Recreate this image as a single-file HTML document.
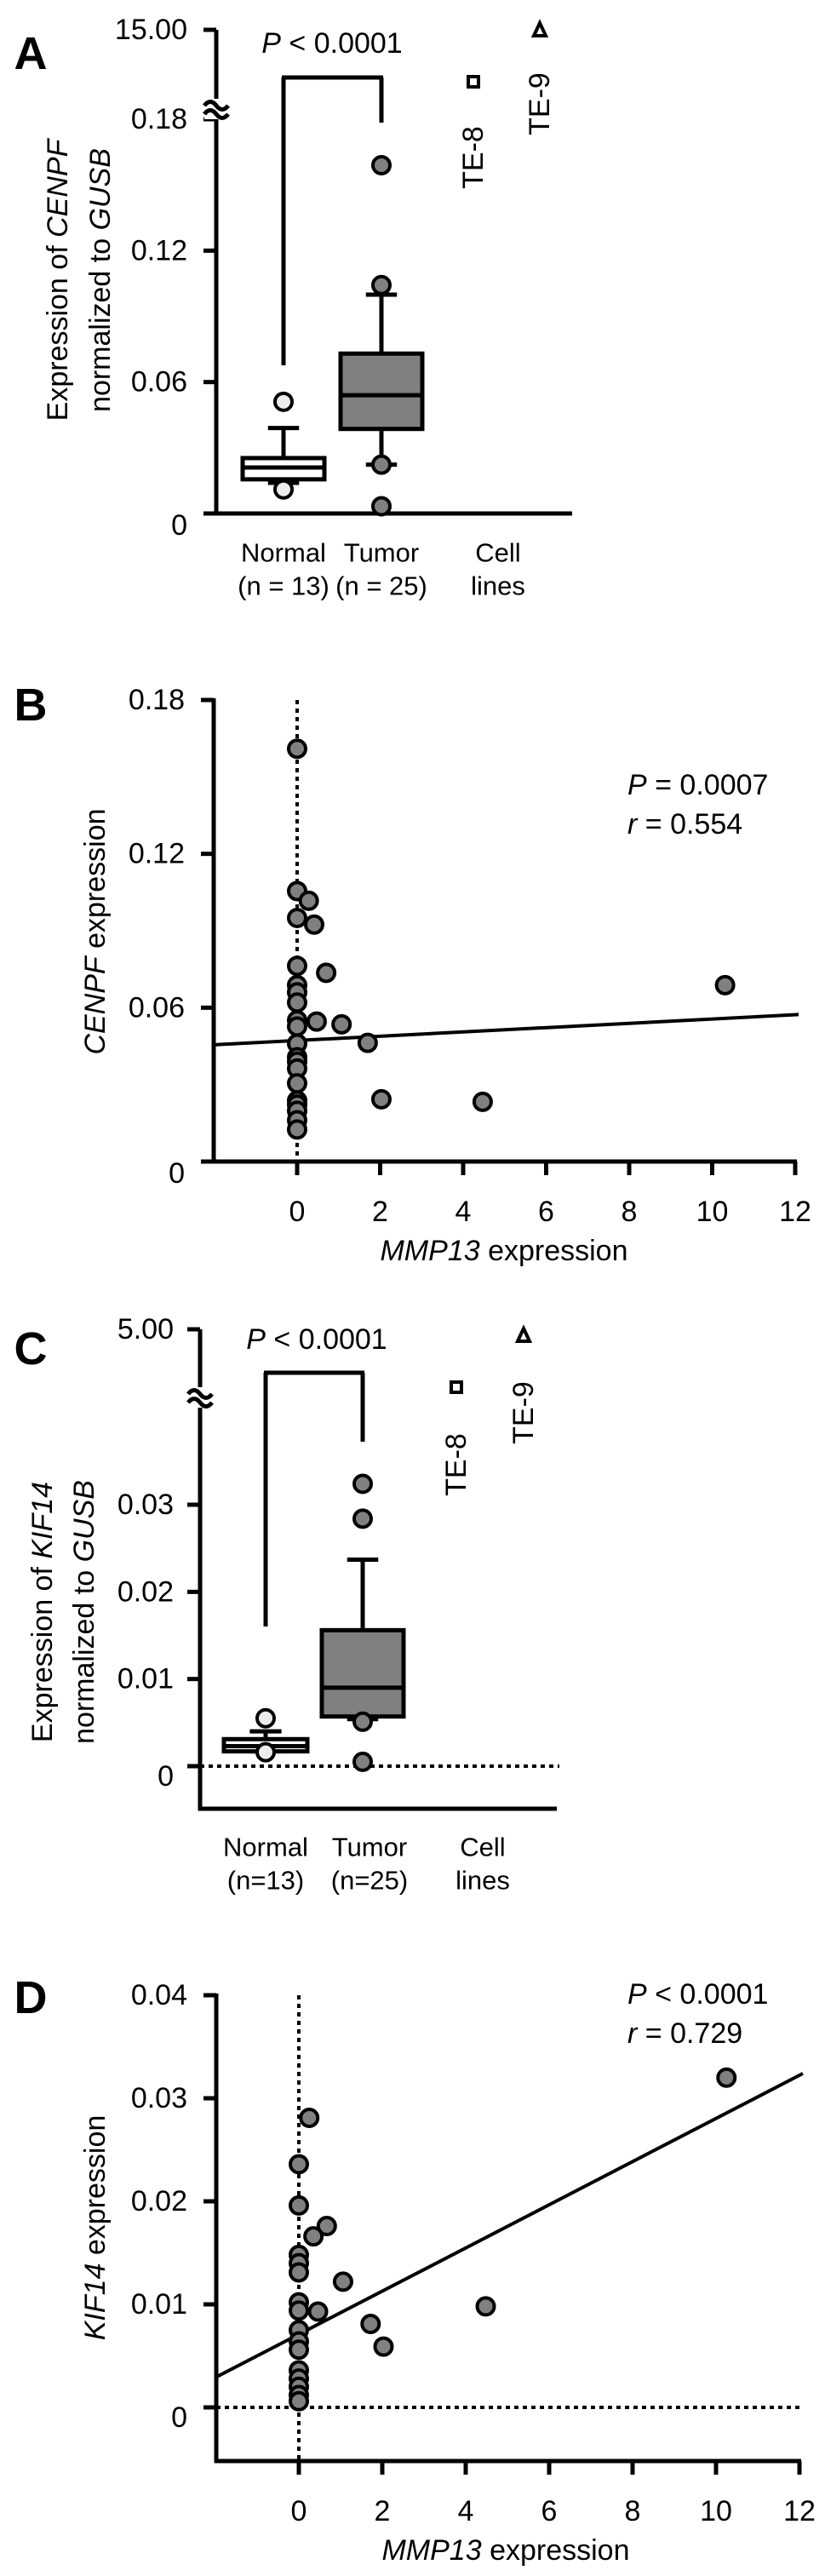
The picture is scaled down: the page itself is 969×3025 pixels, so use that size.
<!DOCTYPE html>
<html><head><meta charset="utf-8"><style>
html,body{margin:0;padding:0;background:#fff;}
svg{display:block;font-family:"Liberation Sans",Arial,sans-serif;}
</style></head><body>
<svg id="fig" width="969" height="3025" viewBox="0 0 969 3025" xmlns="http://www.w3.org/2000/svg"></svg>
<script>
// ---- Panel A data (CENPF) ----
const aTicks = [0, 0.06, 0.12, 0.18];
const aTickLabels = ["0", "0.06", "0.12", "0.18"];
const aNormalStats = [0.014, 0.0156, 0.021, 0.0253, 0.039];
const aTumorStats = [0.0223, 0.0386, 0.054, 0.073, 0.0999];
const aNormalOut = [0.051, 0.011];
const aTumorOut = [0.159, 0.1043, 0.0223, 0.0033];
// ---- Panel B data ----
const bX = [0,0,0.28,0,0.41,0,0.70,0,0,0,0,0,0.47,1.07,1.70,0,0,0,0,0,0,0,0,0,0,2.03,4.47,10.31];
const bY = [0.161,0.1055,0.1017,0.095,0.0924,0.0763,0.0736,0.0688,0.066,0.062,0.0551,0.0527,0.0546,0.0535,0.0463,0.046,0.0407,0.039,0.0363,0.0305,0.0238,0.0222,0.0198,0.0161,0.0125,0.0243,0.0233,0.0688];
const bYTicks = [0, 0.06, 0.12, 0.18];
const bYTickLabels = ["0", "0.06", "0.12", "0.18"];
const bXTicks = [0, 2, 4, 6, 8, 10, 12];
const bFit = [0.0472, 0.00084];
// ---- Panel C data (KIF14) ----
const cTicks = [0, 0.01, 0.02, 0.03];
const cTickLabels = ["0", "0.01", "0.02", "0.03"];
const cNormalStats = [0.0017, 0.0017, 0.0023, 0.0031, 0.0040];
const cTumorStats = [0.0054, 0.0057, 0.0090, 0.0156, 0.0237];
const cNormalOut = [0.0055, 0.0016];
const cTumorOut = [0.0324, 0.0284, 0.0051, 0.0005];
// ---- Panel D data ----
const dX = [0.25,0,0,0.67,0.35,0,0,0,1.06,0,0,0.46,4.48,1.72,0,0,0,2.03,0,0,0,0,0,10.25];
const dY = [0.0281,0.0236,0.0196,0.0176,0.0166,0.0148,0.0140,0.0131,0.0122,0.0102,0.0094,0.0093,0.0098,0.0081,0.0075,0.0064,0.0056,0.0059,0.0036,0.0028,0.0020,0.0012,0.0006,0.0320];
const dYTicks = [0, 0.01, 0.02, 0.03, 0.04];
const dYTickLabels = ["0", "0.01", "0.02", "0.03", "0.04"];
const dXTicks = [0, 2, 4, 6, 8, 10, 12];
const dFit = [0.0071, 0.0021];

const NS = "http://www.w3.org/2000/svg";
const svg = document.getElementById("fig");
function el(tag, attrs, parent, text) {
  const e = document.createElementNS(NS, tag);
  for (const k in attrs) e.setAttribute(k, attrs[k]);
  if (text !== undefined) e.textContent = text;
  (parent || svg).appendChild(e);
  return e;
}
function line(x1,y1,x2,y2,w,dash,name,p){
  const e = el("line",{x1:x1,y1:y1,x2:x2,y2:y2,stroke:"#000","stroke-width":w||5},p);
  if(dash) e.setAttribute("stroke-dasharray",dash);
  
  
  return e;
}
function txt(x,y,s,size,anchor,name,p,extra){
  const e = el("text",{x:x,y:y,"font-size":size,"text-anchor":anchor||"middle","dominant-baseline":"central",fill:"#000"},p);
  e.innerHTML = s;
  if(extra) for(const k in extra) e.setAttribute(k,extra[k]);
  
  
  return e;
}
function dot(cx,cy,r,fill,name,p){
  const e = el("circle",{cx:cx,cy:cy,r:r,fill:fill,stroke:"#000","stroke-width":4},p);
  
  
  return e;
}
function breakMark(x,y,p){
  const g = el("g",{},p);
  
  
  el("rect",{x:x-14,y:y-12,width:28,height:24,fill:"#fff"},g);
  el("path",{d:`M${x-14} ${y-4} q7 -9 14 0 t14 0`,fill:"none",stroke:"#000","stroke-width":5},g);
  el("path",{d:`M${x-14} ${y+6} q7 -9 14 0 t14 0`,fill:"none",stroke:"#000","stroke-width":5},g);
}
function boxPlot(cx, hw, stats, yF, fill, name, p){
  const g = el("g",{},p);
  
  
  const [lo,q1,med,q3,hi] = stats;
  line(cx,yF(hi),cx,yF(q3),5,null,name+"-upper-whisker",g);
  line(cx-hw*0.38,yF(hi),cx+hw*0.38,yF(hi),5,null,name+"-upper-cap",g);
  line(cx,yF(q1),cx,yF(lo),5,null,name+"-lower-whisker",g);
  line(cx-hw*0.38,yF(lo),cx+hw*0.38,yF(lo),5,null,name+"-lower-cap",g);
  const r = el("rect",{x:cx-hw,y:yF(q3),width:2*hw,height:Math.max(yF(q1)-yF(q3),2),fill:fill,stroke:"#000","stroke-width":5},g);
  
  
  line(cx-hw,yF(med),cx+hw,yF(med),5,null,name+"-median",g);
}

// ================= Panel A =================
(function(){
  const g = el("g",{});  
  const ax = 254, y0 = 603, y18 = 140;
  const yF = v => y0 - v*(y0-y18)/0.18;
  txt(36,63,"A",54,"middle","panel-a-label",g,{"font-weight":"bold"});
  line(ax,35,ax,y0+2,5,null,"panel-a-y-axis",g);
  line(239,y0,672,y0,5,null,"panel-a-x-axis",g);
  aTicks.forEach((t,i)=>{ if(i>0) line(239,yF(t),ax,yF(t),5,null,"panel-a-y-tick",g);
    txt(220,yF(t)+(i===0?14:0),aTickLabels[i],34,"end","panel-a-y-tick-label",g); });
  line(239,35,ax,35,5,null,"panel-a-y-tick-top",g);
  txt(220,35,"15.00",34,"end","panel-a-y-tick-label-top",g);
  breakMark(ax,128,g);
  txt(93,329,"Expression of <tspan font-style='italic'>CENPF</tspan>",34,"middle","panel-a-y-title-line1",g,{transform:"rotate(-90 68 329)",x:68,y:329});
  txt(118,329,"normalized to <tspan font-style='italic'>GUSB</tspan>",34,"middle","panel-a-y-title-line2",g,{transform:"rotate(-90 118 329)",x:118,y:329});
  const nx=333, tx=448;
  line(nx,429,nx,91,5,null,"panel-a-bracket-left",g);
  line(nx-2,91,tx+2,91,5,null,"panel-a-bracket-top",g);
  line(tx,91,tx,144,5,null,"panel-a-bracket-right",g);
  txt(390,51,"<tspan font-style='italic'>P</tspan> &lt; 0.0001",34,"middle","panel-a-p-value",g);
  boxPlot(nx,48,aNormalStats,yF,"#fff","panel-a-normal-box",g);
  boxPlot(tx,48,aTumorStats,yF,"#808080","panel-a-tumor-box",g);
  aNormalOut.forEach(v=>dot(nx,yF(v),10,"#ececec","panel-a-normal-outlier",g));
  aTumorOut.forEach(v=>dot(tx,yF(v),10,"#808080","panel-a-tumor-outlier",g));
  const sq = el("rect",{x:550,y:90,width:12,height:12,fill:"#fff",stroke:"#000","stroke-width":4},g);
   
  const tri = el("path",{d:"M634 27 L641 42 L627 42 Z",fill:"#fff",stroke:"#000","stroke-width":4},g);
   
  txt(556,185,"TE-8",34,"middle","te8-label",g,{transform:"rotate(-90 556 185)"});
  txt(634,122,"TE-9",34,"middle","te9-label",g,{transform:"rotate(-90 634 122)"});
  txt(nx,649,"Normal",31,"middle","panel-a-normal-label",g);
  txt(nx,688,"(n = 13)",31,"middle","panel-a-normal-n",g);
  txt(tx,649,"Tumor",31,"middle","panel-a-tumor-label",g);
  txt(tx,688,"(n = 25)",31,"middle","panel-a-tumor-n",g);
  txt(585,649,"Cell",31,"middle","panel-a-cell-label",g);
  txt(585,688,"lines",31,"middle","panel-a-cell-lines",g);
})();

// scatter panel helper
function scatter(o){
  const g = el("g",{});  
  const xF = v => o.x0 + v*(o.x12-o.x0)/12;
  const yF = v => o.yZero - v*(o.yZero-o.yTop)/o.yMax;
  txt(36,o.letterY,o.letter,54,"middle",o.name+"-label",g,{"font-weight":"bold"});
  line(o.ax,o.yTop-2,o.ax,o.xAxisY+2,5,null,o.name+"-y-axis",g);
  line(o.ax-2,o.xAxisY,o.x12+2,o.xAxisY,5,null,o.name+"-x-axis",g);
  o.yTicks.forEach((t,i)=>{ line(o.ax-15,yF(t),o.ax,yF(t),5,null,o.name+"-y-tick",g);
    txt(o.ax-34,yF(t)+(i===0&&!o.zeroDotted?14:(i===0?12:0)),o.yLabels[i],34,"end",o.name+"-y-tick-label",g); });
  o.xTicks.forEach(t=>{ line(xF(t),o.xAxisY,xF(t),o.xAxisY+16,5,null,o.name+"-x-tick",g);
    txt(xF(t),o.xAxisY+59,String(t),34,"middle",o.name+"-x-tick-label",g); });
  line(xF(0),yF(o.yMax),xF(0),o.xAxisY,4,"5,5",o.name+"-zero-vline",g);
  if(o.zeroDotted) line(o.ax,yF(0),o.x12+2,yF(0),4,"5,5",o.name+"-zero-hline",g);
  const xl = -(o.x0-o.ax)/((o.x12-o.x0)/12);
  line(o.ax,yF(o.fit[0]+o.fit[1]*xl),o.x12+4,yF(o.fit[0]+o.fit[1]*12.05),4,null,o.name+"-regression-line",g);
  o.xs.forEach((x,i)=>dot(xF(x),yF(o.ys[i]),10,"#808080",o.name+"-point",g));
  txt(o.x0+243,o.xAxisY+105,"<tspan font-style='italic'>MMP13</tspan> expression",34,"middle",o.name+"-x-title",g);
  txt(112,o.yTitleY,"<tspan font-style='italic'>"+o.gene+"</tspan> expression",34,"middle",o.name+"-y-title",g,{transform:`rotate(-90 112 ${o.yTitleY})`});
  txt(737,o.pY,o.pText,34,"start",o.name+"-p-value",g);
  txt(737,o.pY+46,"<tspan font-style='italic'>r</tspan> = "+o.r,34,"start",o.name+"-r-value",g);
}
scatter({name:"panel-b",letter:"B",letterY:828,ax:251,x0:349,x12:934,yZero:1364,yTop:822,yMax:0.18,xAxisY:1364,
  yTicks:bYTicks,yLabels:bYTickLabels,xTicks:bXTicks,xs:bX,ys:bY,fit:bFit,gene:"CENPF",yTitleY:1094,
  pY:922,pText:"<tspan font-style='italic'>P</tspan> = 0.0007",r:"0.554",zeroDotted:false});

// ================= Panel C =================
(function(){
  const g = el("g",{});  
  const ax = 235, y0 = 2074, y3 = 1767;
  const yF = v => y0 - v*(y0-y3)/0.03;
  txt(36,1584,"C",54,"middle","panel-c-label",g,{"font-weight":"bold"});
  line(ax,1561,ax,2126,5,null,"panel-c-y-axis",g);
  line(ax-2,2124,654,2124,5,null,"panel-c-x-axis",g);
  line(ax,y0,657,y0,4,"5,5","panel-c-zero-line",g);
  cTicks.forEach((t,i)=>{ line(220,yF(t),ax,yF(t),5,null,"panel-c-y-tick",g);
    txt(204,yF(t)+(i===0?12:0),cTickLabels[i],34,"end","panel-c-y-tick-label",g); });
  line(220,1561,ax,1561,5,null,"panel-c-y-tick-top",g);
  txt(204,1561,"5.00",34,"end","panel-c-y-tick-label-top",g);
  breakMark(ax,1641,g);
  txt(50,1893,"Expression of <tspan font-style='italic'>KIF14</tspan>",34,"middle","panel-c-y-title-line1",g,{transform:"rotate(-90 50 1893)"});
  txt(99,1893,"normalized to <tspan font-style='italic'>GUSB</tspan>",34,"middle","panel-c-y-title-line2",g,{transform:"rotate(-90 99 1893)"});
  const nx=312, tx=426;
  line(nx,1910,nx,1612,5,null,"panel-c-bracket-left",g);
  line(nx-2,1612,tx+2,1612,5,null,"panel-c-bracket-top",g);
  line(tx,1612,tx,1693,5,null,"panel-c-bracket-right",g);
  txt(372,1573,"<tspan font-style='italic'>P</tspan> &lt; 0.0001",34,"middle","panel-c-p-value",g);
  boxPlot(nx,49,cNormalStats,yF,"#fff","panel-c-normal-box",g);
  boxPlot(tx,48,cTumorStats,yF,"#808080","panel-c-tumor-box",g);
  cNormalOut.forEach(v=>dot(nx,yF(v),10,"#ececec","panel-c-normal-outlier",g));
  cTumorOut.forEach(v=>dot(tx,yF(v),10,"#808080","panel-c-tumor-outlier",g));
  const sq = el("rect",{x:530,y:1623,width:12,height:12,fill:"#fff",stroke:"#000","stroke-width":4},g);
   
  const tri = el("path",{d:"M615 1560 L622 1575 L608 1575 Z",fill:"#fff",stroke:"#000","stroke-width":4},g);
   
  txt(536,1720,"TE-8",34,"middle","te8-label-c",g,{transform:"rotate(-90 536 1720)"});
  txt(615,1659,"TE-9",34,"middle","te9-label-c",g,{transform:"rotate(-90 615 1659)"});
  txt(nx,2169,"Normal",31,"middle","panel-c-normal-label",g);
  txt(nx,2208,"(n=13)",31,"middle","panel-c-normal-n",g);
  txt(tx+8,2169,"Tumor",31,"middle","panel-c-tumor-label",g);
  txt(tx+8,2208,"(n=25)",31,"middle","panel-c-tumor-n",g);
  txt(567,2169,"Cell",31,"middle","panel-c-cell-label",g);
  txt(567,2208,"lines",31,"middle","panel-c-cell-lines",g);
})();

scatter({name:"panel-d",letter:"D",letterY:2346,ax:254,x0:351,x12:939,yZero:2827,yTop:2343,yMax:0.04,xAxisY:2890,
  yTicks:dYTicks,yLabels:dYTickLabels,xTicks:dXTicks,xs:dX,ys:dY,fit:dFit,gene:"KIF14",yTitleY:2616,
  pY:2342,pText:"<tspan font-style='italic'>P</tspan> &lt; 0.0001",r:"0.729",zeroDotted:true});
</script>
</body></html>
